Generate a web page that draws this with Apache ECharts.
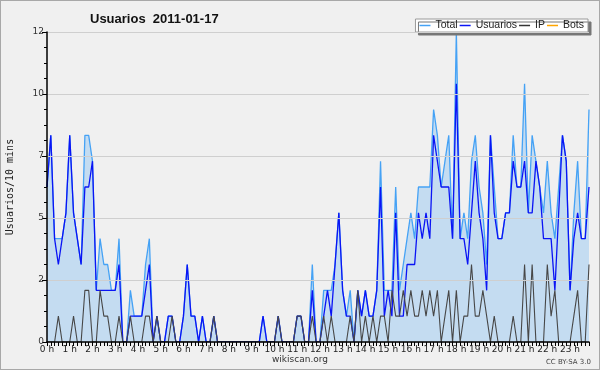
<!DOCTYPE html>
<html>
<head>
<meta charset="utf-8">
<script src="https://cdn.jsdelivr.net/npm/echarts@6/dist/echarts.min.js"></script>
<style>
html,body{margin:0;padding:0;background:#f0f0f0;}
#c{width:598px;height:368px;border:1px solid #a8a8a8;background:#f0f0f0;}
</style>
</head>
<body>
<div id="c"></div>
<script>
// 10-minute slots, 0:00 .. 23:50
var categories = [];
for (var h = 0; h < 24; h++) { for (var m = 0; m < 60; m += 10) { categories.push(h + ':' + (m < 10 ? '0' : '') + m); } }

var total = [6,8,4,4,4,5,8,5,4,3,8,8,7,2,4,3,3,2,2,4,
  0,0,2,1,1,1,3,4,0,1,0,0,1,1,0,0,1,3,1,1,
  0,1,0,0,1,0,0,0,0,0,0,0,0,0,0,0,0,1,0,0,
  0,1,0,0,0,0,1,1,0,0,3,0,0,2,2,2,3,5,2,1,
  2,0,2,1,2,1,1,2,7,2,2,2,6,2,3,4,5,4,6,6,
  6,6,9,8,6,7,8,4,12,4,5,4,7,8,6,5,3,8,6,4,
  4,5,5,8,6,6,10,5,8,7,6,5,7,5,4,6,8,7,2,5,
  7,4,4,9];
var usuarios = [6,8,4,3,4,5,8,5,4,3,6,6,7,2,2,2,2,2,2,3,
  0,0,1,1,1,1,2,3,0,1,0,0,1,1,0,0,1,3,1,1,
  0,1,0,0,1,0,0,0,0,0,0,0,0,0,0,0,0,1,0,0,
  0,1,0,0,0,0,1,1,0,0,2,0,0,1,2,1,3,5,2,1,
  1,0,2,1,2,1,1,2,6,1,2,1,5,1,1,3,3,3,5,4,
  5,4,8,7,6,6,6,4,10,4,4,3,5,7,5,4,2,8,5,4,
  4,5,5,7,6,6,7,5,5,7,6,4,4,4,2,5,8,7,2,4,
  5,4,4,6];
var ip = [0,0,0,1,0,0,0,1,0,0,2,2,0,0,2,1,1,0,0,1,
  0,0,1,0,0,0,1,1,0,1,0,0,0,1,0,0,0,0,0,0,
  0,0,0,0,1,0,0,0,0,0,0,0,0,0,0,0,0,0,0,0,
  0,1,0,0,0,0,1,1,0,0,1,0,0,1,0,1,0,0,0,0,
  1,0,2,0,1,0,1,0,1,1,0,2,1,1,2,1,2,1,1,2,
  1,2,1,2,0,1,2,0,2,0,1,1,3,1,1,2,1,0,1,0,
  0,0,0,1,0,0,3,0,3,0,0,0,3,1,2,0,0,0,0,1,
  2,0,0,3];
var bots = [];
for (var i = 0; i < categories.length; i++) bots.push(0);

var chart = echarts.init(document.getElementById('c'), null, {renderer: 'canvas'});
chart.setOption({
  backgroundColor: '#f0f0f0',
  animation: false,
  title: {
    text: 'Usuarios  2011-01-17',
    left: 84, top: 7,
    textStyle: {fontFamily: 'Liberation Sans', fontSize: 13, fontWeight: 'bold', color: '#111'}
  },
  legend: {
    data: ['Total', 'Usuarios', 'IP', 'Bots'],
    right: 11, top: 18,
    orient: 'horizontal',
    backgroundColor: '#ffffff',
    borderColor: '#9a9a9a', borderWidth: 1,
    shadowColor: '#777', shadowOffsetX: 3, shadowOffsetY: 3, shadowBlur: 0,
    padding: [1, 4, 1, 4],
    itemGap: 2,
    itemWidth: 11, itemHeight: 1.5,
    icon: 'rect',
    textStyle: {fontFamily: 'Liberation Sans', fontSize: 10.5, color: '#222'}
  },
  grid: {left: 46, right: 10, top: 31, bottom: 27, outerBoundsMode: 'none', containLabel: false},
  xAxis: {
    type: 'category',
    data: categories,
    boundaryGap: false,
    z: 5,
    axisLine: {lineStyle: {color: '#000', width: 1.5}},
    axisTick: {show: true, interval: 0, length: 4, lineStyle: {color: '#000'}},
    axisLabel: {
      interval: function (idx) { return idx % 6 === 0; },
      formatter: function (v) { return parseInt(v, 10) + ' h'; },
      fontFamily: 'DejaVu Sans', fontSize: 9, color: '#222', margin: 3
    },
    splitLine: {show: false}
  },
  yAxis: {
    type: 'value',
    min: 0, max: 12, interval: 2.4,
    name: 'Usuarios/10 mins',
    nameLocation: 'middle',
    nameGap: 32,
    nameRotate: 90,
    nameTextStyle: {fontFamily: 'DejaVu Sans Mono', fontSize: 10, color: '#222'},
    z: 5,
    axisLine: {show: true, lineStyle: {color: '#000', width: 1.5}},
    axisTick: {show: true, length: 5, lineStyle: {color: '#000'}},
    minorTick: {show: true, splitNumber: 4, length: 3, lineStyle: {color: '#000'}},
    axisLabel: {
      formatter: function (v) { return String(Math.round(v)); },
      fontFamily: 'DejaVu Sans', fontSize: 9, color: '#333', margin: 3
    },
    splitLine: {show: true, lineStyle: {color: '#cfcfcf', width: 1}}
  },
  series: [
    {name: 'Bots', type: 'line', data: bots, symbol: 'none', z: 1,
     lineStyle: {color: '#ffa500', width: 1}, itemStyle: {color: '#ffa500'}},
    {name: 'Total', type: 'line', data: total, symbol: 'none', z: 2,
     lineStyle: {color: '#45a2f5', width: 1.3}, itemStyle: {color: '#45a2f5'},
     areaStyle: {color: '#c4dcf1', opacity: 1}},
    {name: 'Usuarios', type: 'line', data: usuarios, symbol: 'none', z: 3,
     lineStyle: {color: '#0a14f5', width: 1.3}, itemStyle: {color: '#0a14f5'}},
    {name: 'IP', type: 'line', data: ip, symbol: 'none', z: 4,
     lineStyle: {color: '#474747', width: 1.1}, itemStyle: {color: '#333'}}
  ],
  graphic: [
    {type: 'text', left: 'center', top: 354, style: {text: 'wikiscan.org', fontFamily: 'DejaVu Sans', fontSize: 9, fill: '#333'}},
    {type: 'text', right: 8, top: 358, style: {text: 'CC BY-SA 3.0', fontFamily: 'DejaVu Sans', fontSize: 7, fill: '#444'}}
  ]
});
</script>
</body>
</html>
